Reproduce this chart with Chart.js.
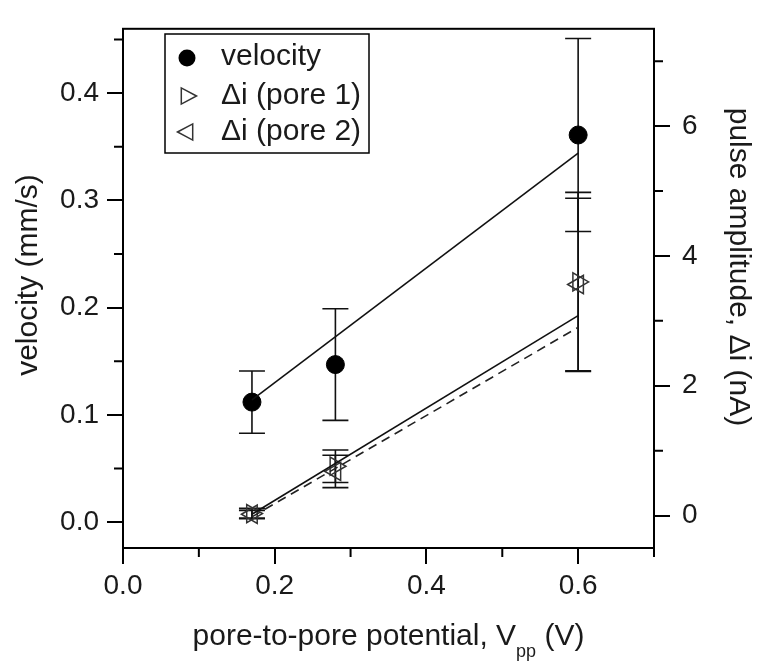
<!DOCTYPE html>
<html>
<head>
<meta charset="utf-8">
<script src="https://cdn.jsdelivr.net/npm/chart.js@4/dist/chart.umd.min.js"></script>
<style>
  html, body { margin: 0; padding: 0; background: #fff; }
  #wrap { width: 771px; height: 664px; }
</style>
</head>
<body>
<div id="wrap"><canvas id="myChart" width="771" height="664"></canvas></div>
<script>
// data
var potential = [0.17, 0.28, 0.6];
var velocity = [0.112, 0.147, 0.361];
var velocityErr = [0.029, 0.052, 0.09];
var pore1 = [0.03, 0.76, 3.6];
var pore1Err = [0.08, 0.25, 1.38];
var pore2 = [0.02, 0.68, 3.56];
var pore2Err = [0.06, 0.25, 1.33];

// linear fits
var fitX = [0.17, 0.6];
var velocityFit = [0.114, 0.344];
var pore1Fit = [0.02, 3.08];
var pore2Fit = [-0.02, 2.9];

// ticks
var xTicks = [0, 0.2, 0.4, 0.6];
var xMinor = [0.1, 0.3, 0.5, 0.7];
var yTicks = [0, 0.1, 0.2, 0.3, 0.4];
var yMinor = [0.05, 0.15, 0.25, 0.35, 0.45];
var y2Ticks = [0, 2, 4, 6];
var y2Minor = [1, 3, 5, 7];

var FONT = '"Liberation Sans", Arial, sans-serif';
var FS = 28;   // tick labels
var TS = 30;   // titles + legend

function pts(xs, ys) {
    return xs.map(function(x, i) { return {x: x, y: ys[i]}; });
}

var errorBars = {
    id: 'errorBars',
    beforeDatasetsDraw: function(chart) {
        var ctx = chart.ctx;
        ctx.save();
        ctx.strokeStyle = '#111';
        ctx.lineWidth = 1.6;
        chart.data.datasets.forEach(function(ds, i) {
            if (!ds.errors) return;
            var ys = chart.scales[ds.yAxisID];
            var xs = chart.scales.x;
            ds.data.forEach(function(p, j) {
                var px = xs.getPixelForValue(p.x);
                var top = ys.getPixelForValue(p.y + ds.errors[j]);
                var bot = ys.getPixelForValue(p.y - ds.errors[j]);
                ctx.beginPath();
                ctx.moveTo(px, top); ctx.lineTo(px, bot);
                ctx.moveTo(px - 13, top); ctx.lineTo(px + 13, top);
                ctx.moveTo(px - 13, bot); ctx.lineTo(px + 13, bot);
                ctx.stroke();
            });
        });
        ctx.restore();
    }
};

function tri(ctx, x, y, r, dir) {
    ctx.beginPath();
    ctx.moveTo(x + dir * r, y);
    ctx.lineTo(x - dir * r * 0.6, y - r * 0.85);
    ctx.lineTo(x - dir * r * 0.6, y + r * 0.85);
    ctx.closePath();
    ctx.stroke();
}

var frameAndText = {
    id: 'frameAndText',
    afterDraw: function(chart) {
        var ctx = chart.ctx;
        var a = chart.chartArea;
        var sx = chart.scales.x, sy = chart.scales.y, sy2 = chart.scales.y2;
        ctx.save();
        ctx.strokeStyle = '#000';
        ctx.lineWidth = 2;
        ctx.strokeRect(a.left, a.top, a.right - a.left, a.bottom - a.top);
        // minor ticks
        ctx.beginPath();
        xMinor.forEach(function(v) {
            var p = sx.getPixelForValue(v);
            ctx.moveTo(p, a.bottom); ctx.lineTo(p, a.bottom + 9);
        });
        yMinor.forEach(function(v) {
            var p = sy.getPixelForValue(v);
            ctx.moveTo(a.left, p); ctx.lineTo(a.left - 9, p);
        });
        y2Minor.forEach(function(v) {
            var p = sy2.getPixelForValue(v);
            ctx.moveTo(a.right, p); ctx.lineTo(a.right + 9, p);
        });
        ctx.stroke();

        // titles
        ctx.fillStyle = '#1a1a1a';
        ctx.font = TS + 'px ' + FONT;
        ctx.textBaseline = 'middle';
        ctx.textAlign = 'center';
        ctx.save();
        ctx.translate(29, 275);
        ctx.rotate(-Math.PI / 2);
        ctx.fillText('velocity (mm/s)', 0, 0);
        ctx.restore();
        ctx.save();
        ctx.translate(738, 267);
        ctx.rotate(Math.PI / 2);
        ctx.fillText('pulse amplitude, \u0394i (nA)', 0, 0);
        ctx.restore();

        // x title with subscript
        var s1 = 'pore-to-pore potential, V', s2 = 'pp', s3 = ' (V)';
        var SUB = Math.round(TS * 0.6);
        ctx.textAlign = 'left';
        ctx.font = TS + 'px ' + FONT;
        var w1 = ctx.measureText(s1).width, w3 = ctx.measureText(s3).width;
        ctx.font = SUB + 'px ' + FONT;
        var w2 = ctx.measureText(s2).width;
        var x0 = (a.left + a.right) / 2 - (w1 + w2 + w3) / 2;
        var ty = 637;
        ctx.font = TS + 'px ' + FONT;
        ctx.fillText(s1, x0, ty);
        ctx.font = SUB + 'px ' + FONT;
        ctx.fillText(s2, x0 + w1, ty + 15);
        ctx.font = TS + 'px ' + FONT;
        ctx.fillText(s3, x0 + w1 + w2, ty);

        // legend
        ctx.strokeStyle = '#000';
        ctx.lineWidth = 1.5;
        ctx.strokeRect(165, 34, 204, 119);
        ctx.fillStyle = '#000';
        ctx.beginPath();
        ctx.arc(187, 58, 8.5, 0, Math.PI * 2);
        ctx.fill();
        ctx.strokeStyle = '#333';
        ctx.lineWidth = 1.5;
        tri(ctx, 187, 96, 9.5, 1);
        tri(ctx, 187, 132, 9.5, -1);
        ctx.fillStyle = '#1a1a1a';
        ctx.fillText('velocity', 221, 57);
        ctx.fillText('\u0394i (pore 1)', 221, 96);
        ctx.fillText('\u0394i (pore 2)', 221, 132);
        ctx.restore();
    }
};

function fixTicks(list) {
    return function(scale) {
        scale.ticks = list.map(function(v) { return {value: v}; });
    };
}

var ctx = document.getElementById('myChart').getContext('2d');
var chart = new Chart(ctx, {
    type: 'scatter',
    data: {
        datasets: [{
            label: 'velocity fit',
            data: pts(fitX, velocityFit),
            yAxisID: 'y',
            showLine: true,
            borderColor: '#111',
            borderWidth: 1.6,
            pointRadius: 0
        }, {
            label: 'pore 1 fit',
            data: pts(fitX, pore1Fit),
            yAxisID: 'y2',
            showLine: true,
            borderColor: '#111',
            borderWidth: 1.6,
            pointRadius: 0
        }, {
            label: 'pore 2 fit',
            data: pts(fitX, pore2Fit),
            yAxisID: 'y2',
            showLine: true,
            borderColor: '#222',
            borderWidth: 1.6,
            borderDash: [9, 6],
            pointRadius: 0
        }, {
            label: 'velocity',
            data: pts(potential, velocity),
            errors: velocityErr,
            yAxisID: 'y',
            pointStyle: 'circle',
            pointRadius: 9,
            backgroundColor: '#000',
            borderColor: '#000'
        }, {
            label: '\u0394i (pore 1)',
            data: pts(potential, pore1),
            errors: pore1Err,
            yAxisID: 'y2',
            pointStyle: 'triangle',
            rotation: 90,
            pointRadius: 10.5,
            backgroundColor: 'rgba(0,0,0,0)',
            borderColor: '#333',
            borderWidth: 1.5
        }, {
            label: '\u0394i (pore 2)',
            data: pts(potential, pore2),
            errors: pore2Err,
            yAxisID: 'y2',
            pointStyle: 'triangle',
            rotation: -90,
            pointRadius: 10.5,
            backgroundColor: 'rgba(0,0,0,0)',
            borderColor: '#333',
            borderWidth: 1.5
        }]
    },
    options: {
        responsive: false,
        animation: false,
        layout: { padding: { top: 15, left: 0, right: 0, bottom: 0 } },
        plugins: { legend: { display: false }, tooltip: { enabled: false } },
        scales: {
            x: {
                type: 'linear',
                min: 0, max: 0.7,
                afterBuildTicks: fixTicks(xTicks),
                afterFit: function(s) { s.height = 116; },
                grid: { drawOnChartArea: false, tickLength: 16, lineWidth: 2, color: '#000' },
                border: { display: false },
                ticks: {
                    padding: 5,
                    color: '#1a1a1a',
                    font: { family: FONT, size: FS },
                    maxRotation: 0,
                    callback: function(v) { return Number(v).toFixed(1); }
                }
            },
            y: {
                position: 'left',
                min: -0.024, max: 0.46,
                afterBuildTicks: fixTicks(yTicks),
                afterFit: function(s) { s.width = 123; },
                grid: { drawOnChartArea: false, tickLength: 16, lineWidth: 2, color: '#000' },
                border: { display: false },
                ticks: {
                    padding: 8,
                    color: '#1a1a1a',
                    font: { family: FONT, size: FS },
                    callback: function(v) { return Number(v).toFixed(1); }
                }
            },
            y2: {
                position: 'right',
                min: -0.5, max: 7.5,
                afterBuildTicks: fixTicks(y2Ticks),
                afterFit: function(s) { s.width = 117; },
                grid: { drawOnChartArea: false, tickLength: 16, lineWidth: 2, color: '#000' },
                border: { display: false },
                ticks: {
                    padding: 12,
                    color: '#1a1a1a',
                    font: { family: FONT, size: FS },
                    callback: function(v) { return String(v); }
                }
            }
        }
    },
    plugins: [errorBars, frameAndText]
});
</script>
</body>
</html>
